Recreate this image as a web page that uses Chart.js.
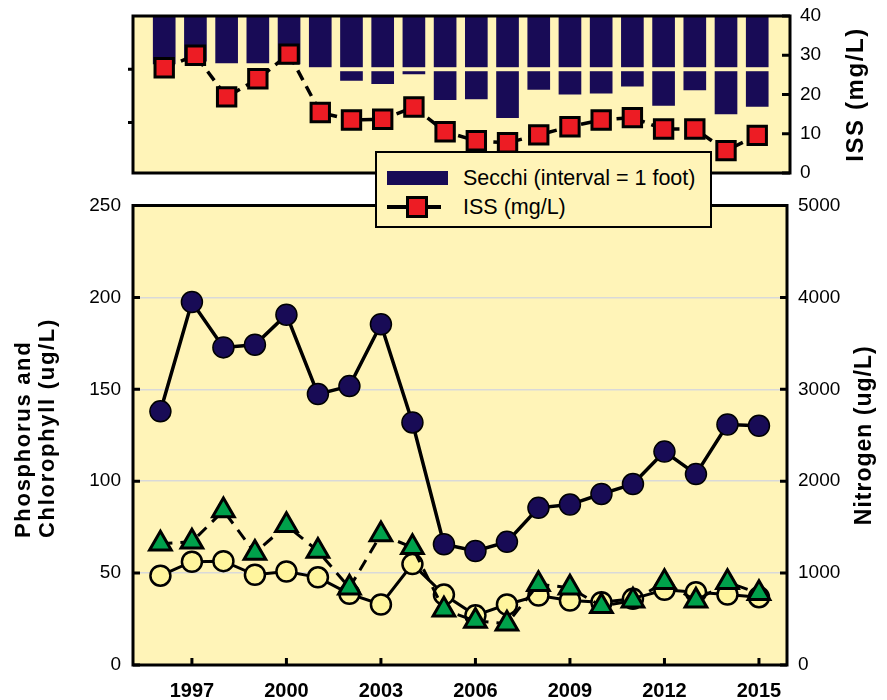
<!DOCTYPE html>
<html>
<head>
<meta charset="utf-8">
<script src="https://cdn.jsdelivr.net/npm/chart.js@4.4.1/dist/chart.umd.min.js"></script>
<style>
  html, body { margin: 0; padding: 0; background: #ffffff; }
  #wrap { position: relative; width: 887px; height: 700px; overflow: hidden; font-family: "Liberation Sans", Arial, sans-serif; }
  #topCanvas { position: absolute; left: 0; top: 0; }
  #botCanvas { position: absolute; left: 0; top: 190px; }
  #legend { position: absolute; left: 375px; top: 151px; width: 333px; height: 73px; border: 2px solid #000; background: #fff4b8; z-index: 5; }
  .lg-row { position: absolute; left: 0; width: 100%; height: 28px; }
  .lg-text { position: absolute; left: 86px; top: 0; line-height: 28px; font-size: 21.5px; color: #000; white-space: nowrap; }
  .sw-bar { position: absolute; left: 10px; top: 7px; width: 61px; height: 14px; background: #180b56; }
  .sw-line { position: absolute; left: 10px; top: 12px; width: 54px; height: 4px; background: #000; }
  .sw-sq { position: absolute; left: 29px; top: 3px; width: 16px; height: 16px; background: #ed1c24; border: 3px solid #000; }
</style>
</head>
<body>
<div id="wrap">
  <canvas id="topCanvas" width="887" height="195"></canvas>
  <canvas id="botCanvas" width="887" height="510"></canvas>
  <div id="legend">
    <div class="lg-row" style="top:11px;"><div class="sw-bar"></div><div class="lg-text">Secchi (interval = 1 foot)</div></div>
    <div class="lg-row" style="top:40px;"><div class="sw-line"></div><div class="sw-sq"></div><div class="lg-text">ISS (mg/L)</div></div>
  </div>
</div>
<script>
// ---------------- DATA ----------------
const years = [1996, 1997, 1998, 1999, 2000, 2001, 2002, 2003, 2004, 2005,
               2006, 2007, 2008, 2009, 2010, 2011, 2012, 2013, 2014, 2015];
const xTickYears = [1997, 2000, 2003, 2006, 2009, 2012, 2015];

// Secchi depth (feet), bars hanging from top
const secchiFt = [0.90, 0.85, 0.88, 0.88, 0.90, 1.00, 1.21, 1.27, 1.09, 1.57,
                  1.56, 1.91, 1.38, 1.47, 1.45, 1.32, 1.68, 1.39, 1.84, 1.70];
// Inorganic suspended solids (mg/L)
const issMgL = [26.8, 30.0, 19.4, 24.0, 30.3, 15.4, 13.5, 13.7, 16.8, 10.5,
                8.2, 7.7, 9.7, 11.8, 13.5, 14.1, 11.2, 11.2, 5.7, 9.6];
// Nitrogen (ug/L) - right axis
const nitrogen = [2760, 3950, 3456, 3485, 3812, 2948, 3035, 3708, 2639, 1314,
                  1240, 1340, 1710, 1746, 1861, 1969, 2322, 2077, 2617, 2603];
// Phosphorus (ug/L) - left axis
const phosphorus = [48.6, 56.2, 56.5, 49.1, 50.9, 47.7, 38.7, 32.9, 54.9, 38.3,
                    27.0, 32.9, 37.8, 35.1, 34.2, 36.0, 40.9, 39.6, 38.3, 36.9];
// Chlorophyll (ug/L) - left axis
const chlorophyll = [66.0, 67.0, 84.0, 61.0, 76.0, 62.0, 42.0, 71.0, 64.0, 30.0,
                     24.0, 22.5, 44.0, 42.0, 32.0, 35.0, 45.0, 35.0, 45.0, 39.0];

// ---------------- STYLE ----------------
const FONT = '"Liberation Sans", Arial, sans-serif';
const PLOT_BG = '#fff4b8';
const NAVY = '#180b56';
const RED = '#ed1c24';
const GREEN = '#00a14b';
const PALE = '#fff59d';

Chart.defaults.font.family = FONT;
Chart.defaults.color = '#000';

function fixAxis(w, h) {
  return function (s) {
    if (w !== null) s.width = w;
    if (h !== null) s.height = h;
    s.paddingTop = 0; s.paddingBottom = 0; s.paddingLeft = 0; s.paddingRight = 0;
  };
}

function rotText(ctx, text, x, y, font, align, spacing) {
  ctx.save();
  ctx.font = font;
  ctx.fillStyle = '#000';
  ctx.textAlign = align;
  ctx.textBaseline = 'middle';
  if ('letterSpacing' in ctx) ctx.letterSpacing = spacing + 'px';
  ctx.translate(x, y);
  ctx.rotate(-Math.PI / 2);
  ctx.fillText(text, 0, 0);
  ctx.restore();
}

const frame = {
  id: 'frame',
  beforeDraw(chart) {
    const { ctx, chartArea: a } = chart;
    ctx.save();
    ctx.fillStyle = PLOT_BG;
    ctx.fillRect(a.left, a.top, a.right - a.left, a.bottom - a.top);
    ctx.restore();
  },
  afterDatasetDraw(chart, args) {
    // Secchi 1-foot interval break across the bars
    if (chart.canvas.id === 'topCanvas' && args.index === 1) {
      const { ctx, chartArea: a } = chart;
      const y = chart.scales.ySec.getPixelForValue(1);
      ctx.save();
      ctx.fillStyle = PLOT_BG;
      ctx.fillRect(a.left + 2, y - 2, a.right - a.left - 4, 4);
      ctx.restore();
    }
  },
  afterDraw(chart) {
    const { ctx, chartArea: a } = chart;
    const isTop = chart.canvas.id === 'topCanvas';
    ctx.save();
    ctx.strokeStyle = '#000';
    ctx.lineWidth = 3;
    ctx.lineCap = 'butt';
    ctx.beginPath();
    if (isTop) {
      const yr = chart.scales.yISS;
      yr.ticks.forEach(t => {
        const y = yr.getPixelForValue(t.value);
        ctx.moveTo(a.right - 8, y); ctx.lineTo(a.right, y);
      });
      const ys = chart.scales.ySec;
      [1, 2].forEach(v => {
        const y = ys.getPixelForValue(v);
        ctx.moveTo(a.left - 5, y); ctx.lineTo(a.left, y);
      });
    } else {
      const yl = chart.scales.yL, yr = chart.scales.yR, xs = chart.scales.x;
      yl.ticks.forEach(t => {
        const y = yl.getPixelForValue(t.value);
        ctx.moveTo(a.left, y); ctx.lineTo(a.left + 7, y);
      });
      yr.ticks.forEach(t => {
        const y = yr.getPixelForValue(t.value);
        ctx.moveTo(a.right - 7, y); ctx.lineTo(a.right, y);
      });
      xs.ticks.forEach(t => {
        const x = xs.getPixelForValue(t.value);
        ctx.moveTo(x, a.bottom); ctx.lineTo(x, a.bottom - 7);
      });
    }
    ctx.stroke();
    ctx.strokeRect(a.left, a.top, a.right - a.left, a.bottom - a.top);
    ctx.restore();

    // axis titles
    if (isTop) {
      rotText(ctx, 'ISS (mg/L)', 856, (a.top + a.bottom) / 2, 'bold 24px ' + FONT, 'center', 1.6);
    } else {
      rotText(ctx, 'Nitrogen (ug/L)', 865, (a.top + a.bottom) / 2, 'bold 23px ' + FONT, 'center', 1.0);
      const startY = 538 - 190;
      rotText(ctx, 'Phosphorus and', 24, startY, 'bold 22px ' + FONT, 'left', 1.7);
      rotText(ctx, 'Chlorophyll (ug/L)', 48, startY, 'bold 22px ' + FONT, 'left', 1.7);
    }
  }
};

// ---------------- TOP PANEL ----------------
new Chart(document.getElementById('topCanvas'), {
  type: 'bar',
  data: {
    labels: years,
    datasets: [
      {
        type: 'line',
        label: 'ISS (mg/L)',
        data: issMgL,
        yAxisID: 'yISS',
        borderColor: '#000',
        borderWidth: 3.5,
        borderDash: [11, 7],
        pointStyle: 'rect',
        pointRadius: 13,
        pointBackgroundColor: RED,
        pointBorderColor: '#000',
        pointBorderWidth: 3,
        tension: 0
      },
      {
        type: 'bar',
        label: 'Secchi (interval = 1 foot)',
        data: secchiFt,
        yAxisID: 'ySec',
        backgroundColor: NAVY,
        borderWidth: 0,
        barThickness: 22
      }
    ]
  },
  options: {
    responsive: false,
    animation: false,
    events: [],
    layout: { padding: { left: 133, top: 15, right: 0, bottom: 22 } },
    plugins: { legend: { display: false }, tooltip: { enabled: false } },
    scales: {
      x: { type: 'linear', display: false, min: 1995.0, max: 2016.05, offset: false },
      ySec: { type: 'linear', display: false, reverse: true, min: 0, max: 2.95, position: 'left' },
      yISS: {
        type: 'linear', position: 'right', min: 0, max: 40,
        ticks: { stepSize: 10, padding: 10, font: { size: 19 }, color: '#000' },
        grid: { display: false, drawTicks: false },
        border: { display: false },
        afterFit: fixAxis(97, null)
      }
    }
  },
  plugins: [frame]
});

// ---------------- BOTTOM PANEL ----------------
new Chart(document.getElementById('botCanvas'), {
  type: 'line',
  data: {
    labels: years,
    datasets: [
      {
        label: 'Nitrogen (ug/L)',
        data: nitrogen,
        yAxisID: 'yR',
        borderColor: '#000',
        borderWidth: 3.5,
        pointStyle: 'circle',
        pointRadius: 10.5,
        pointBackgroundColor: NAVY,
        pointBorderColor: '#000',
        pointBorderWidth: 1.5,
        tension: 0
      },
      {
        label: 'Chlorophyll (ug/L)',
        data: chlorophyll,
        yAxisID: 'yL',
        borderColor: '#000',
        borderWidth: 3,
        borderDash: [12, 8],
        pointStyle: 'triangle',
        pointRadius: 12.5,
        pointBackgroundColor: GREEN,
        pointBorderColor: '#000',
        pointBorderWidth: 3,
        tension: 0
      },
      {
        label: 'Phosphorus (ug/L)',
        data: phosphorus,
        yAxisID: 'yL',
        borderColor: '#000',
        borderWidth: 3,
        pointStyle: 'circle',
        pointRadius: 10,
        pointBackgroundColor: PALE,
        pointBorderColor: '#000',
        pointBorderWidth: 2.5,
        tension: 0
      }
    ]
  },
  options: {
    responsive: false,
    animation: false,
    events: [],
    layout: { padding: { left: 0, top: 12, right: 0, bottom: 0 } },
    plugins: { legend: { display: false }, tooltip: { enabled: false } },
    scales: {
      x: {
        type: 'linear', min: 1995.13, max: 2015.89, offset: false,
        afterBuildTicks: s => { s.ticks = xTickYears.map(v => ({ value: v })); },
        ticks: { font: { size: 20, weight: 'bold' }, color: '#000', padding: 14, callback: v => String(v), maxRotation: 0, autoSkip: false },
        grid: { display: false, drawTicks: false },
        border: { display: false },
        afterFit: fixAxis(null, 35)
      },
      yL: {
        type: 'linear', position: 'left', min: 0, max: 250,
        ticks: { stepSize: 50, padding: 12, font: { size: 19 }, color: '#000' },
        grid: { color: '#d9d9d9', lineWidth: 1.5, drawTicks: false },
        border: { display: false },
        afterFit: fixAxis(133, null)
      },
      yR: {
        type: 'linear', position: 'right', min: 0, max: 5000,
        ticks: { stepSize: 1000, padding: 11, font: { size: 19 }, color: '#000', callback: v => String(v) },
        grid: { display: false, drawTicks: false },
        border: { display: false },
        afterFit: fixAxis(100, null)
      }
    }
  },
  plugins: [frame]
});
</script>
</body>
</html>
